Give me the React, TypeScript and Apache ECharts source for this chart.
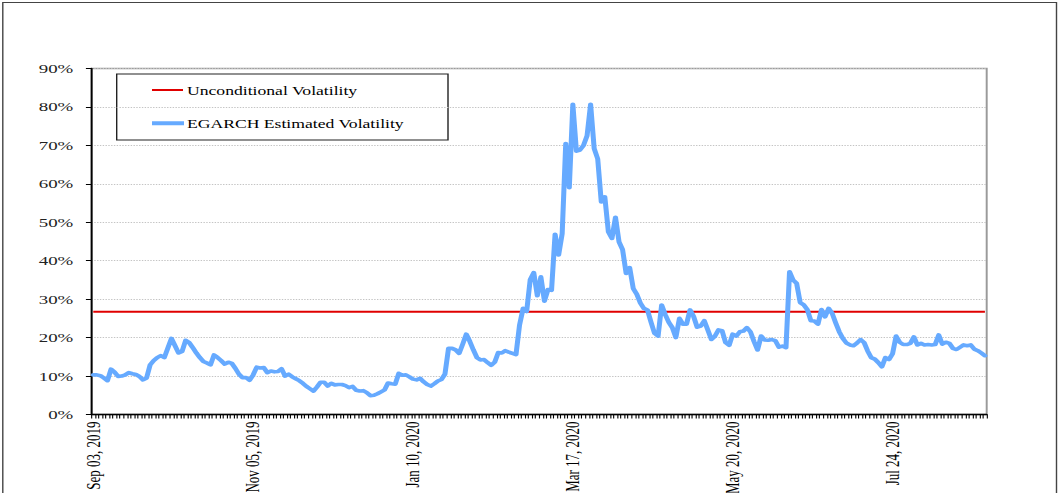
import React, { useEffect, useRef } from "react";
import * as echarts from "echarts";

// ---- data ----
const tickLabels = [
  "Sep 03, 2019",
  "Nov 05, 2019",
  "Jan 10, 2020",
  "Mar 17, 2020",
  "May 20, 2020",
  "Jul 24, 2020",
];
const tickStep = 45; // trading days between labelled dates

// EGARCH estimated volatility (%), one value per trading day, Sep 03 2019 - Aug 31 2020
const egarchVol = [
  10.3, 10.3, 10.1, 9.5, 8.8, 11.8, 11.0, 9.9, 10.0, 10.3,
  10.9, 10.6, 10.4, 9.9, 9.0, 9.5, 12.9, 14.0, 14.8, 15.3,
  14.8, 17.3, 19.8, 17.9, 16.0, 16.4, 19.3, 18.7, 17.4, 16.0,
  14.8, 13.8, 13.4, 12.9, 15.5, 14.8, 14.0, 13.1, 13.6, 13.3,
  12.0, 10.5, 9.6, 9.6, 8.9, 10.3, 12.3, 12.1, 12.2, 10.9,
  11.3, 11.1, 11.2, 11.9, 10.0, 10.5, 9.8, 9.3, 8.8, 8.1,
  7.3, 6.7, 6.1, 7.2, 8.4, 8.4, 7.4, 8.1, 7.7, 7.8,
  7.8, 7.5, 7.0, 7.3, 6.3, 6.1, 6.2, 5.7, 4.9, 5.0,
  5.4, 5.9, 6.4, 8.2, 8.0, 7.9, 10.7, 10.2, 10.3, 9.8,
  9.2, 9.0, 9.4, 8.5, 7.8, 7.4, 8.0, 8.7, 9.1, 10.5,
  17.2, 17.2, 16.8, 15.9, 18.3, 20.9, 19.0, 16.8, 14.8, 14.2,
  14.3, 13.5, 12.8, 13.6, 16.1, 16.0, 16.6, 16.2, 15.9, 15.6,
  23.3, 27.6, 26.8, 35.1, 36.9, 30.9, 35.8, 29.5, 32.5, 32.3,
  46.9, 41.5, 47.1, 70.5, 59.0, 80.7, 68.5, 68.8, 70.0, 72.5,
  80.7, 69.2, 66.5, 55.3, 56.6, 47.5, 45.8, 51.3, 44.9, 42.9,
  36.7, 38.2, 32.8, 31.3, 29.0, 27.6, 27.2, 24.0, 21.1, 20.4,
  28.5, 26.0, 24.0, 22.6, 20.0, 25.0, 23.5, 23.5, 27.2, 25.5,
  22.7, 23.0, 24.4, 22.0, 19.5, 20.4, 22.0, 21.8, 18.7, 18.0,
  20.9, 20.4, 21.5, 21.7, 22.6, 21.5, 19.0, 16.8, 20.4, 19.4,
  19.3, 19.5, 19.2, 17.5, 17.8, 17.4, 37.1, 35.0, 34.1, 29.1,
  28.5, 27.3, 24.4, 24.3, 23.5, 27.3, 25.4, 27.6, 26.3, 23.8,
  21.5, 19.8, 18.6, 18.1, 17.9, 18.6, 19.5, 18.7, 16.5, 14.8,
  14.4, 13.5, 12.4, 14.8, 14.3, 15.8, 20.4, 18.8, 18.2, 18.2,
  18.5, 20.2, 18.1, 18.5, 18.1, 18.2, 18.1, 18.2, 20.7, 18.3,
  18.8, 18.5, 17.2, 16.9, 17.5, 18.1, 17.9, 18.1, 17.0, 16.6,
  16.0, 15.3,
];

const unconditionalVol = 26.7;
const seriesNames = ["Unconditional Volatility", "EGARCH Estimated Volatility"];
const yTicks = { min: 0, max: 90, interval: 10 };

// ---- layout ----
const W = 756;
const H = 493;
const SX = 1058 / W; // horizontal stretch of the original picture
const sx = (x: number) => x / SX;
const FONT = '"Liberation Serif", "Times New Roman", serif';
const BLUE = "#66AAFF";
const RED = "#E00000";

export default function App() {
  const ref = useRef<HTMLDivElement>(null);

  useEffect(() => {
    if (!ref.current) return;
    const chart = echarts.init(ref.current, undefined, { renderer: "svg" });
    const categories = egarchVol.map((_, i) =>
      i % tickStep === 0 && tickLabels[i / tickStep] ? tickLabels[i / tickStep] : ""
    );
    const last = egarchVol.length - 1;

    chart.setOption({
      animation: false,
      backgroundColor: "#ffffff",
      textStyle: { fontFamily: FONT },
      grid: {
        left: sx(91.5),
        right: W - sx(986.7),
        top: 68.5,
        bottom: H - 414.5,
        containLabel: false,
        outerBoundsMode: "none",
        show: true,
        borderColor: "#9a9a9a",
        borderWidth: 1.4,
        backgroundColor: "transparent",
      },
      xAxis: {
        type: "category",
        boundaryGap: true,
        data: categories,
        axisLine: { show: true, lineStyle: { color: "#000", width: 1.3 } },
        axisTick: {
          show: true,
          interval: 0,
          length: 4,
          lineStyle: { color: "#000", width: 0.8 },
        },
        axisLabel: {
          interval: (index: number) => index % tickStep === 0,
          rotate: 90,
          margin: 7,
          color: "#000",
          fontFamily: FONT,
          fontSize: 13,
        },
        splitLine: { show: false },
      },
      yAxis: {
        type: "value",
        min: yTicks.min,
        max: yTicks.max,
        interval: yTicks.interval,
        axisLine: { show: true, lineStyle: { color: "#000", width: 1.3 } },
        axisTick: { show: true, length: 4, lineStyle: { color: "#000", width: 1 } },
        axisLabel: {
          formatter: "{value}%",
          margin: 13,
          color: "#222",
          fontFamily: FONT,
          fontSize: 13.5,
        },
        splitLine: {
          show: true,
          lineStyle: { color: "#c4c4c4", type: "dotted", width: 1 },
        },
      },
      series: [
        {
          name: seriesNames[0],
          type: "line",
          data: [
            [0, unconditionalVol],
            [last, unconditionalVol],
          ],
          symbol: "none",
          lineStyle: { color: RED, width: 2 },
          z: 2,
        },
        {
          name: seriesNames[1],
          type: "line",
          data: egarchVol,
          symbol: "none",
          showSymbol: false,
          lineStyle: { color: BLUE, width: 3.6, join: "round", cap: "round" },
          z: 3,
        },
      ],
      graphic: [
        {
          type: "rect",
          silent: true,
          shape: { x: sx(2.8), y: 2.5, width: sx(1056.5 - 2.8), height: 560 },
          style: { fill: "none", stroke: "#444", lineWidth: 1 },
        },
        {
          type: "group",
          silent: true,
          children: [
            {
              type: "rect",
              shape: {
                x: sx(116.7),
                y: 74,
                width: sx(448 - 116.7),
                height: 66,
              },
              style: { fill: "#fff", stroke: "#222", lineWidth: 1 },
            },
            {
              type: "line",
              shape: { x1: sx(152), y1: 90, x2: sx(183), y2: 90 },
              style: { stroke: RED, lineWidth: 2 },
            },
            {
              type: "text",
              style: {
                text: seriesNames[0],
                x: sx(187),
                y: 90,
                verticalAlign: "middle",
                fill: "#000",
                font: `12.6px ${FONT}`,
              },
            },
            {
              type: "line",
              shape: { x1: sx(152), y1: 123.3, x2: sx(184), y2: 123.3 },
              style: { stroke: BLUE, lineWidth: 4 },
            },
            {
              type: "text",
              style: {
                text: seriesNames[1],
                x: sx(187),
                y: 123.3,
                verticalAlign: "middle",
                fill: "#000",
                font: `12.6px ${FONT}`,
              },
            },
          ],
        },
      ],
    });

    return () => chart.dispose();
  }, []);

  return (
    <div
      ref={ref}
      style={{
        position: "fixed",
        left: 0,
        top: 0,
        width: W,
        height: H,
        transform: `scaleX(${SX})`,
        transformOrigin: "0 0",
        background: "#fff",
      }}
    />
  );
}
